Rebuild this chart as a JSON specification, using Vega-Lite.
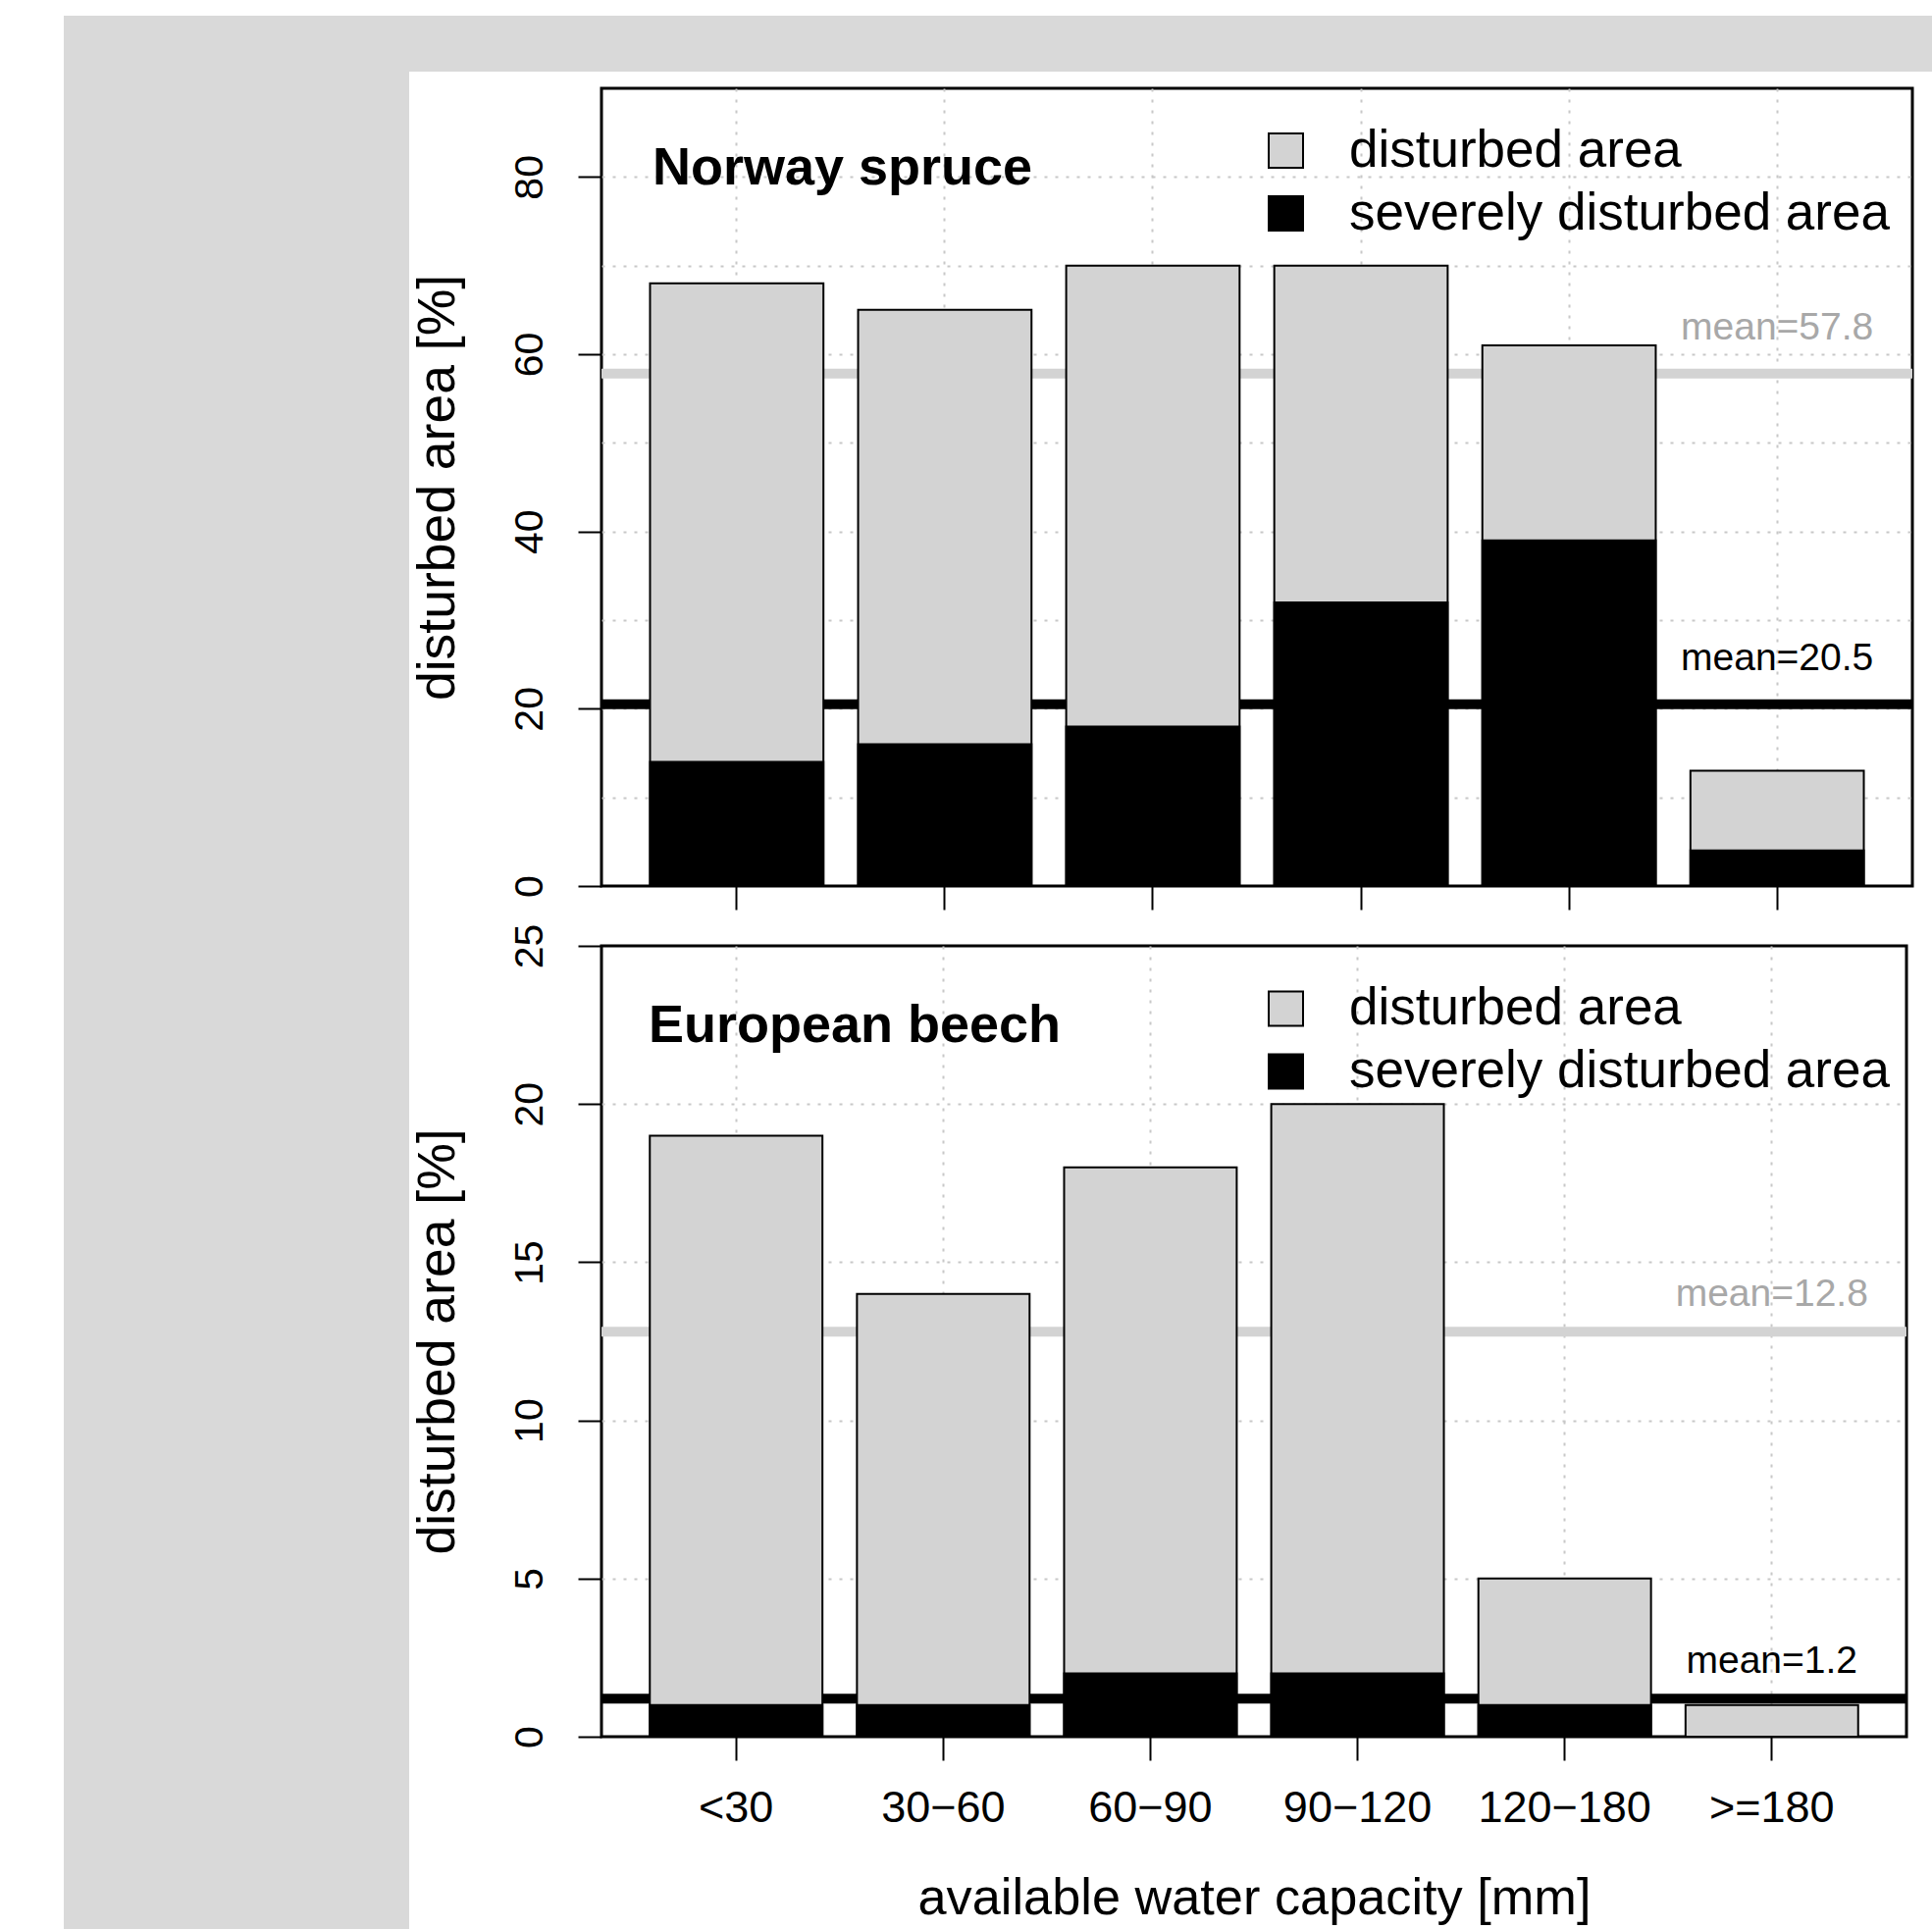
{
  "$schema": "https://vega.github.io/schema/vega-lite/v6.json",
  "background": "white",
  "padding": {"left": 65, "top": 16, "right": 0, "bottom": 0},
  "datasets": {
    "bars": [
      {"species": "Norway spruce", "type": "disturbed area", "awc": "<30", "value": 68},
      {"species": "Norway spruce", "type": "disturbed area", "awc": "30−60", "value": 65},
      {"species": "Norway spruce", "type": "disturbed area", "awc": "60−90", "value": 70},
      {"species": "Norway spruce", "type": "disturbed area", "awc": "90−120", "value": 70},
      {"species": "Norway spruce", "type": "disturbed area", "awc": "120−180", "value": 61},
      {"species": "Norway spruce", "type": "disturbed area", "awc": ">=180", "value": 13},
      {"species": "Norway spruce", "type": "severely disturbed area", "awc": "<30", "value": 14},
      {"species": "Norway spruce", "type": "severely disturbed area", "awc": "30−60", "value": 16},
      {"species": "Norway spruce", "type": "severely disturbed area", "awc": "60−90", "value": 18},
      {"species": "Norway spruce", "type": "severely disturbed area", "awc": "90−120", "value": 32},
      {"species": "Norway spruce", "type": "severely disturbed area", "awc": "120−180", "value": 39},
      {"species": "Norway spruce", "type": "severely disturbed area", "awc": ">=180", "value": 4},
      {"species": "European beech", "type": "disturbed area", "awc": "<30", "value": 19},
      {"species": "European beech", "type": "disturbed area", "awc": "30−60", "value": 14},
      {"species": "European beech", "type": "disturbed area", "awc": "60−90", "value": 18},
      {"species": "European beech", "type": "disturbed area", "awc": "90−120", "value": 20},
      {"species": "European beech", "type": "disturbed area", "awc": "120−180", "value": 5},
      {"species": "European beech", "type": "disturbed area", "awc": ">=180", "value": 1},
      {"species": "European beech", "type": "severely disturbed area", "awc": "<30", "value": 1},
      {"species": "European beech", "type": "severely disturbed area", "awc": "30−60", "value": 1},
      {"species": "European beech", "type": "severely disturbed area", "awc": "60−90", "value": 2},
      {"species": "European beech", "type": "severely disturbed area", "awc": "90−120", "value": 2},
      {"species": "European beech", "type": "severely disturbed area", "awc": "120−180", "value": 1},
      {"species": "European beech", "type": "severely disturbed area", "awc": ">=180", "value": 0}
    ],
    "means": [
      {"species": "Norway spruce", "type": "disturbed area", "mean": 57.8, "label": "mean=57.8"},
      {"species": "Norway spruce", "type": "severely disturbed area", "mean": 20.5, "label": "mean=20.5"},
      {"species": "European beech", "type": "disturbed area", "mean": 12.8, "label": "mean=12.8"},
      {"species": "European beech", "type": "severely disturbed area", "mean": 1.2, "label": "mean=1.2"}
    ]
  },
  "config": {
    "font": "Liberation Sans",
    "view": {"stroke": "black", "strokeWidth": 3, "fill": "white"},
    "axis": {
      "domain": false,
      "labelFont": "Liberation Sans",
      "titleFont": "Liberation Sans",
      "labelColor": "black",
      "titleColor": "black",
      "tickColor": "black",
      "tickWidth": 2,
      "tickSize": 24,
      "titleFontWeight": "normal",
      "gridColor": "#c8c8c8",
      "gridDash": [3, 8],
      "gridWidth": 2,
      "labelOverlap": false,
      "labelFlush": false
    }
  },
  "spacing": 0,
  "vconcat": [
    {
      "width": 1870,
      "height": 23,
      "data": {"values": []},
      "mark": "point",
      "view": {"fill": "#d9d9d9", "stroke": "#d9d9d9", "strokeWidth": 34}
    },
    {
      "spacing": 0,
      "hconcat": [
        {
          "width": 318,
          "height": 1859,
          "data": {"values": []},
          "mark": "point",
          "view": {"fill": "#d9d9d9", "stroke": "#d9d9d9", "strokeWidth": 34}
        },
        {
          "spacing": 9,
          "resolve": {"scale": {"color": "independent"}, "legend": {"color": "independent"}},
          "vconcat": [
            {
              "width": 1336,
              "height": 813,
              "title": {"text": "Norway spruce", "anchor": "start", "frame": "group", "offset": 0, "dx": 52, "dy": 151.5, "baseline": "alphabetic", "fontSize": 54, "fontWeight": "bold", "font": "Liberation Sans", "color": "black"},
              "layer": [
                {
                  "data": {"name": "means"},
                  "transform": [{"filter": "datum.species === 'Norway spruce'"}],
                  "mark": {"type": "rule", "strokeWidth": 10},
                  "encoding": {
                    "y": {"field": "mean", "type": "quantitative", "title": "disturbed area [%]"},
                    "color": {"condition": {"test": "datum.type === 'disturbed area'", "value": "#d3d3d3"}, "value": "black"}
                  }
                },
                {
                  "data": {"name": "bars"},
                  "transform": [{"filter": "datum.species === 'Norway spruce'"}],
                  "mark": {"type": "bar", "stroke": "black", "strokeWidth": 2},
                  "encoding": {
                    "x": {
                      "field": "awc", "type": "nominal",
                      "scale": {"domain": ["<30", "30−60", "60−90", "90−120", "120−180", ">=180"], "paddingInner": 0.16667, "paddingOuter": 0.23333},
                      "axis": {"bandPosition": 0.5, "labels": false, "title": null, "grid": true}
                    },
                    "y": {
                      "field": "value", "type": "quantitative", "stack": null,
                      "scale": {"domain": [0, 90], "nice": false},
                      "title": "disturbed area [%]",
                      "axis": {
                        "values": [0, 10, 20, 30, 40, 50, 60, 70, 80],
                        "labelExpr": "datum.value % 20 === 0 ? datum.label : ''",
                        "tickOpacity": {"condition": {"test": "datum.value % 20 === 0", "value": 1}, "value": 0},
                        "gridOpacity": {"condition": {"test": "datum.value === 0", "value": 0}, "value": 1},
                        "labelAngle": 270, "labelAlign": "center", "labelBaseline": "alphabetic",
                        "labelFontSize": 41, "labelPadding": 37,
                        "titleFontSize": 53.5, "titleBaseline": "alphabetic", "titlePadding": 56.6,
                        "grid": true
                      }
                    },
                    "color": {
                      "field": "type", "type": "nominal",
                      "scale": {"domain": ["disturbed area", "severely disturbed area"], "range": ["#d3d3d3", "#000000"]},
                      "legend": {"orient": "none", "legendX": 671, "legendY": 37, "title": null, "padding": 0, "labelFontSize": 53, "labelFont": "Liberation Sans", "labelColor": "black", "labelLimit": 1000, "symbolType": "square", "symbolSize": 1225, "symbolStrokeColor": "black", "symbolStrokeWidth": 2, "symbolOpacity": 1, "rowPadding": 10, "labelOffset": 38}
                    }
                  }
                },
                {
                  "data": {"name": "means"},
                  "transform": [{"filter": "datum.species === 'Norway spruce'"}],
                  "mark": {"type": "text", "fontSize": 39, "baseline": "alphabetic", "align": "center", "dy": -35, "font": "Liberation Sans"},
                  "encoding": {
                    "x": {"datum": ">=180", "type": "nominal"},
                    "y": {"field": "mean", "type": "quantitative", "title": "disturbed area [%]"},
                    "text": {"field": "label"},
                    "color": {"condition": {"test": "datum.type === 'disturbed area'", "value": "#a8a8a8"}, "value": "black"}
                  }
                }
              ]
            },
            {
              "width": 1330,
              "height": 806,
              "title": {"text": "European beech", "anchor": "start", "frame": "group", "offset": 0, "dx": 48, "dy": 175, "baseline": "alphabetic", "fontSize": 54, "fontWeight": "bold", "font": "Liberation Sans", "color": "black"},
              "layer": [
                {
                  "data": {"name": "means"},
                  "transform": [{"filter": "datum.species === 'European beech'"}],
                  "mark": {"type": "rule", "strokeWidth": 10},
                  "encoding": {
                    "y": {"field": "mean", "type": "quantitative", "title": "disturbed area [%]"},
                    "color": {"condition": {"test": "datum.type === 'disturbed area'", "value": "#d3d3d3"}, "value": "black"}
                  }
                },
                {
                  "data": {"name": "bars"},
                  "transform": [{"filter": "datum.species === 'European beech'"}],
                  "mark": {"type": "bar", "stroke": "black", "strokeWidth": 2},
                  "encoding": {
                    "x": {
                      "field": "awc", "type": "nominal",
                      "scale": {"domain": ["<30", "30−60", "60−90", "90−120", "120−180", ">=180"], "paddingInner": 0.16667, "paddingOuter": 0.23333},
                      "axis": {"bandPosition": 0.5, "labelAngle": 0, "labelFontSize": 45, "labelBaseline": "alphabetic", "labelPadding": 62, "title": "available water capacity [mm]", "titleFontSize": 52.3, "titleBaseline": "alphabetic", "titlePadding": 85, "grid": true}
                    },
                    "y": {
                      "field": "value", "type": "quantitative", "stack": null,
                      "scale": {"domain": [0, 25], "nice": false},
                      "title": "disturbed area [%]",
                      "axis": {
                        "values": [0, 5, 10, 15, 20, 25],
                        "gridOpacity": {"condition": {"test": "datum.value === 0 || datum.value === 25", "value": 0}, "value": 1},
                        "labelAngle": 270, "labelAlign": "center", "labelBaseline": "alphabetic",
                        "labelFontSize": 41, "labelPadding": 37,
                        "titleFontSize": 53.5, "titleBaseline": "alphabetic", "titlePadding": 56.6,
                        "grid": true
                      }
                    },
                    "color": {
                      "field": "type", "type": "nominal",
                      "scale": {"domain": ["disturbed area", "severely disturbed area"], "range": ["#d3d3d3", "#000000"]},
                      "legend": {"orient": "none", "legendX": 671, "legendY": 37.5, "title": null, "padding": 0, "labelFontSize": 53, "labelFont": "Liberation Sans", "labelColor": "black", "labelLimit": 1000, "symbolType": "square", "symbolSize": 1225, "symbolStrokeColor": "black", "symbolStrokeWidth": 2, "symbolOpacity": 1, "rowPadding": 10, "labelOffset": 38}
                    }
                  }
                },
                {
                  "data": {"name": "means"},
                  "transform": [{"filter": "datum.species === 'European beech'"}],
                  "mark": {"type": "text", "fontSize": 39, "baseline": "alphabetic", "align": "center", "dy": -26, "font": "Liberation Sans"},
                  "encoding": {
                    "x": {"datum": ">=180", "type": "nominal"},
                    "y": {"field": "mean", "type": "quantitative", "title": "disturbed area [%]"},
                    "text": {"field": "label"},
                    "color": {"condition": {"test": "datum.type === 'disturbed area'", "value": "#a8a8a8"}, "value": "black"}
                  }
                }
              ]
            }
          ]
        }
      ]
    }
  ]
}
